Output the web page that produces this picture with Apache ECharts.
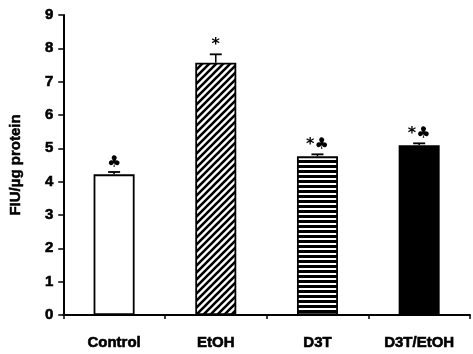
<!DOCTYPE html>
<html><head><meta charset="utf-8">
<script src="https://cdn.jsdelivr.net/npm/echarts@6/dist/echarts.min.js"></script>
<style>html,body{margin:0;padding:0;background:#fff;}#c{width:473px;height:354px;}</style>
</head><body><div id="c"></div>
<script>
var categories = ['Control', 'EtOH', 'D3T', 'D3T/EtOH'];
var values = [4.22, 7.57, 4.76, 5.09];
var errors = [0.07, 0.25, 0.06, 0.06];
var marks = ['\u2663', '*', '*\u2663', '*\u2663'];
var yTicks = [0, 1, 2, 3, 4, 5, 6, 7, 8, 9];

function diagPattern() {
  var s = 7, c = document.createElement('canvas');
  c.width = s; c.height = s;
  var g = c.getContext('2d');
  g.fillStyle = '#fff'; g.fillRect(0, 0, s, s);
  g.strokeStyle = '#000'; g.lineWidth = 2.6;
  g.beginPath();
  g.moveTo(-1, 1); g.lineTo(1, -1);
  g.moveTo(0, s); g.lineTo(s, 0);
  g.moveTo(s - 1, s + 1); g.lineTo(s + 1, s - 1);
  g.stroke();
  return c;
}
function horizPattern() {
  var c = document.createElement('canvas');
  c.width = 4; c.height = 5;
  var g = c.getContext('2d');
  g.fillStyle = '#fff'; g.fillRect(0, 0, 4, 5);
  g.fillStyle = '#000'; g.fillRect(0, 0, 4, 3);
  return c;
}
var fills = ['#ffffff', {image: diagPattern(), repeat: 'repeat'}, {image: horizPattern(), repeat: 'repeat'}, '#000000'];

var chart = echarts.init(document.getElementById('c'));
var font = 'Liberation Sans, Arial, sans-serif';
chart.setOption({
  animation: false,
  grid: {left: 59, right: 3, top: 15, bottom: 39},
  xAxis: {
    type: 'category', data: categories, boundaryGap: true,
    axisLine: {lineStyle: {color: '#000', width: 2}},
    axisTick: {show: true, length: 4, lineStyle: {color: '#000', width: 1.5}},
    axisLabel: {color: '#000', fontWeight: 'bold', fontSize: 15, fontFamily: font, margin: 20,
      textBorderColor: '#000', textBorderWidth: 0.6}
  },
  yAxis: {
    type: 'value', min: 0, max: 9, interval: 1,
    name: 'FIU/\u00b5g protein', nameLocation: 'middle', nameGap: 40,
    nameTextStyle: {color: '#000', fontWeight: 'bold', fontSize: 15, fontFamily: font,
      textBorderColor: '#000', textBorderWidth: 0.5},
    axisLine: {show: true, lineStyle: {color: '#000', width: 2}},
    axisTick: {show: true, length: 5, lineStyle: {color: '#000', width: 1.5}},
    axisLabel: {color: '#000', fontWeight: 'bold', fontSize: 15, fontFamily: font, margin: 10,
      textBorderColor: '#000', textBorderWidth: 0.6,
      formatter: function (v) { return yTicks.indexOf(v) >= 0 ? String(v) : ''; }},
    splitLine: {show: false}
  },
  series: [{
    type: 'bar', barWidth: 41,
    data: values.map(function (v, i) {
      return {value: v, itemStyle: {color: fills[i], borderColor: '#000', borderWidth: 1.8}};
    })
  }, {
    type: 'custom', z: 5,
    data: values.map(function (v, i) { return [i, v, errors[i]]; }),
    renderItem: function (params, api) {
      var i = api.value(0), v = api.value(1), e = api.value(2);
      var top = api.coord([i, v]);
      var cap = api.coord([i, v + e]);
      var idx = params.dataIndex;
      return {type: 'group', children: [
        {type: 'line', shape: {x1: top[0], y1: top[1], x2: cap[0], y2: cap[1]}, style: {stroke: '#000', lineWidth: 1.5}},
        {type: 'line', shape: {x1: cap[0] - 6, y1: cap[1], x2: cap[0] + 6, y2: cap[1]}, style: {stroke: '#000', lineWidth: 1.8}},
        {type: 'text', style: {text: marks[idx], x: cap[0], y: cap[1] - 1, align: 'center', verticalAlign: 'bottom',
          fill: '#000', font: 'bold 16px DejaVu Sans, sans-serif'}}
      ]};
    }
  }]
});
</script></body></html>
